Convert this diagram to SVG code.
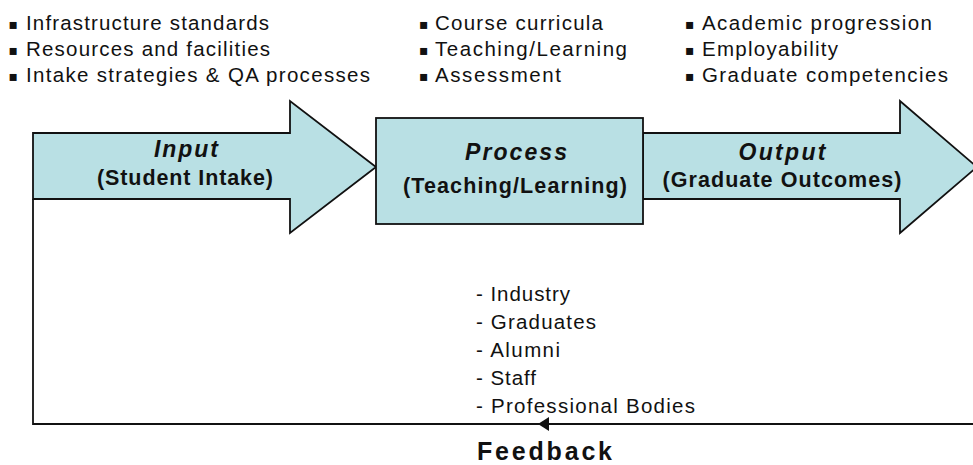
<svg xmlns="http://www.w3.org/2000/svg" width="973" height="465" viewBox="0 0 973 465">
  <defs>
    <style>
      .shape { fill: #b9e0e4; stroke: #111; stroke-width: 1.8; stroke-linejoin: miter; }
      .txt { font-family: "Liberation Sans", Arial, sans-serif; font-size: 20.5px; fill: #111; }
      .bul { font-family: "DejaVu Sans", sans-serif; font-size: 14px; fill: #111; }
      .lbl { font-family: "Liberation Sans", Arial, sans-serif; font-size: 21.5px; font-weight: bold; fill: #111; }
      .ttl { font-style: italic; font-size: 23px; }
      .fb { font-family: "Liberation Sans", Arial, sans-serif; font-size: 25px; font-weight: bold; fill: #111; }
      .conn { fill: none; stroke: #111; stroke-width: 1.8; }
    </style>
    <marker id="head" viewBox="0 0 11 14" refX="0" refY="7" markerWidth="11" markerHeight="14" markerUnits="userSpaceOnUse" orient="auto">
      <path d="M11,7 L0,0 L0,14 Z" fill="#111"/>
    </marker>
  </defs>

  <!-- feedback loop: from the output side back to the input -->
  <g id="connectors">
    <path class="conn" d="M973,424 H549" marker-end="url(#head)"/>
    <path class="conn" d="M549,424 H33 V199"/>
  </g>

  <!-- output arrow (drawn first so the process box sits over its tail) -->
  <g id="output">
    <polygon class="shape" points="643,133 900,133 900,101 977,167 900,233 900,199 643,199"/>
    <text class="lbl ttl" x="782" y="160" text-anchor="middle" textLength="87" lengthAdjust="spacing">Output</text>
    <text class="lbl" x="782" y="187" text-anchor="middle" textLength="239" lengthAdjust="spacing">(Graduate Outcomes)</text>
  </g>

  <g id="input">
    <polygon class="shape" points="33,133 290,133 290,101 376,167 290,233 290,199 33,199"/>
    <text class="lbl ttl" x="186" y="157" text-anchor="middle" textLength="64" lengthAdjust="spacing">Input</text>
    <text class="lbl" x="185" y="185" text-anchor="middle" textLength="176" lengthAdjust="spacing">(Student Intake)</text>
  </g>

  <g id="process">
    <rect class="shape" x="376" y="118" width="267" height="106"/>
    <text class="lbl ttl" x="516" y="160" text-anchor="middle" textLength="102" lengthAdjust="spacing">Process</text>
    <text class="lbl" x="515" y="193" text-anchor="middle" textLength="224" lengthAdjust="spacing">(Teaching/Learning)</text>
  </g>

  <!-- input criteria -->
  <g id="input-notes">
    <text class="bul" x="8.5" y="29">▪</text>
    <text class="txt" x="26" y="30" textLength="243" lengthAdjust="spacing">Infrastructure standards</text>
    <text class="bul" x="8.5" y="55">▪</text>
    <text class="txt" x="26" y="56" textLength="244" lengthAdjust="spacing">Resources and facilities</text>
    <text class="bul" x="8.5" y="81">▪</text>
    <text class="txt" x="26" y="82" textLength="344" lengthAdjust="spacing">Intake strategies &amp; QA processes</text>
  </g>

  <!-- process criteria -->
  <g id="process-notes">
    <text class="bul" x="419" y="29">▪</text>
    <text class="txt" x="435" y="30" textLength="168" lengthAdjust="spacing">Course curricula</text>
    <text class="bul" x="419" y="55">▪</text>
    <text class="txt" x="435" y="56" textLength="192" lengthAdjust="spacing">Teaching/Learning</text>
    <text class="bul" x="419" y="81">▪</text>
    <text class="txt" x="435" y="82" textLength="126" lengthAdjust="spacing">Assessment</text>
  </g>

  <!-- output criteria -->
  <g id="output-notes">
    <text class="bul" x="685" y="29">▪</text>
    <text class="txt" x="702" y="30" textLength="230" lengthAdjust="spacing">Academic progression</text>
    <text class="bul" x="685" y="55">▪</text>
    <text class="txt" x="702" y="56" textLength="136" lengthAdjust="spacing">Employability</text>
    <text class="bul" x="685" y="81">▪</text>
    <text class="txt" x="702" y="82" textLength="246" lengthAdjust="spacing">Graduate competencies</text>
  </g>

  <!-- feedback sources -->
  <g id="feedback">
    <text class="txt" x="476" y="301" textLength="94" lengthAdjust="spacing">- Industry</text>
    <text class="txt" x="476" y="329" textLength="120" lengthAdjust="spacing">- Graduates</text>
    <text class="txt" x="476" y="357" textLength="84" lengthAdjust="spacing">- Alumni</text>
    <text class="txt" x="476" y="385" textLength="60" lengthAdjust="spacing">- Staff</text>
    <text class="txt" x="476" y="413" textLength="219" lengthAdjust="spacing">- Professional Bodies</text>
    <text class="fb" x="477" y="460" textLength="135" lengthAdjust="spacing">Feedback</text>
  </g>
</svg>
